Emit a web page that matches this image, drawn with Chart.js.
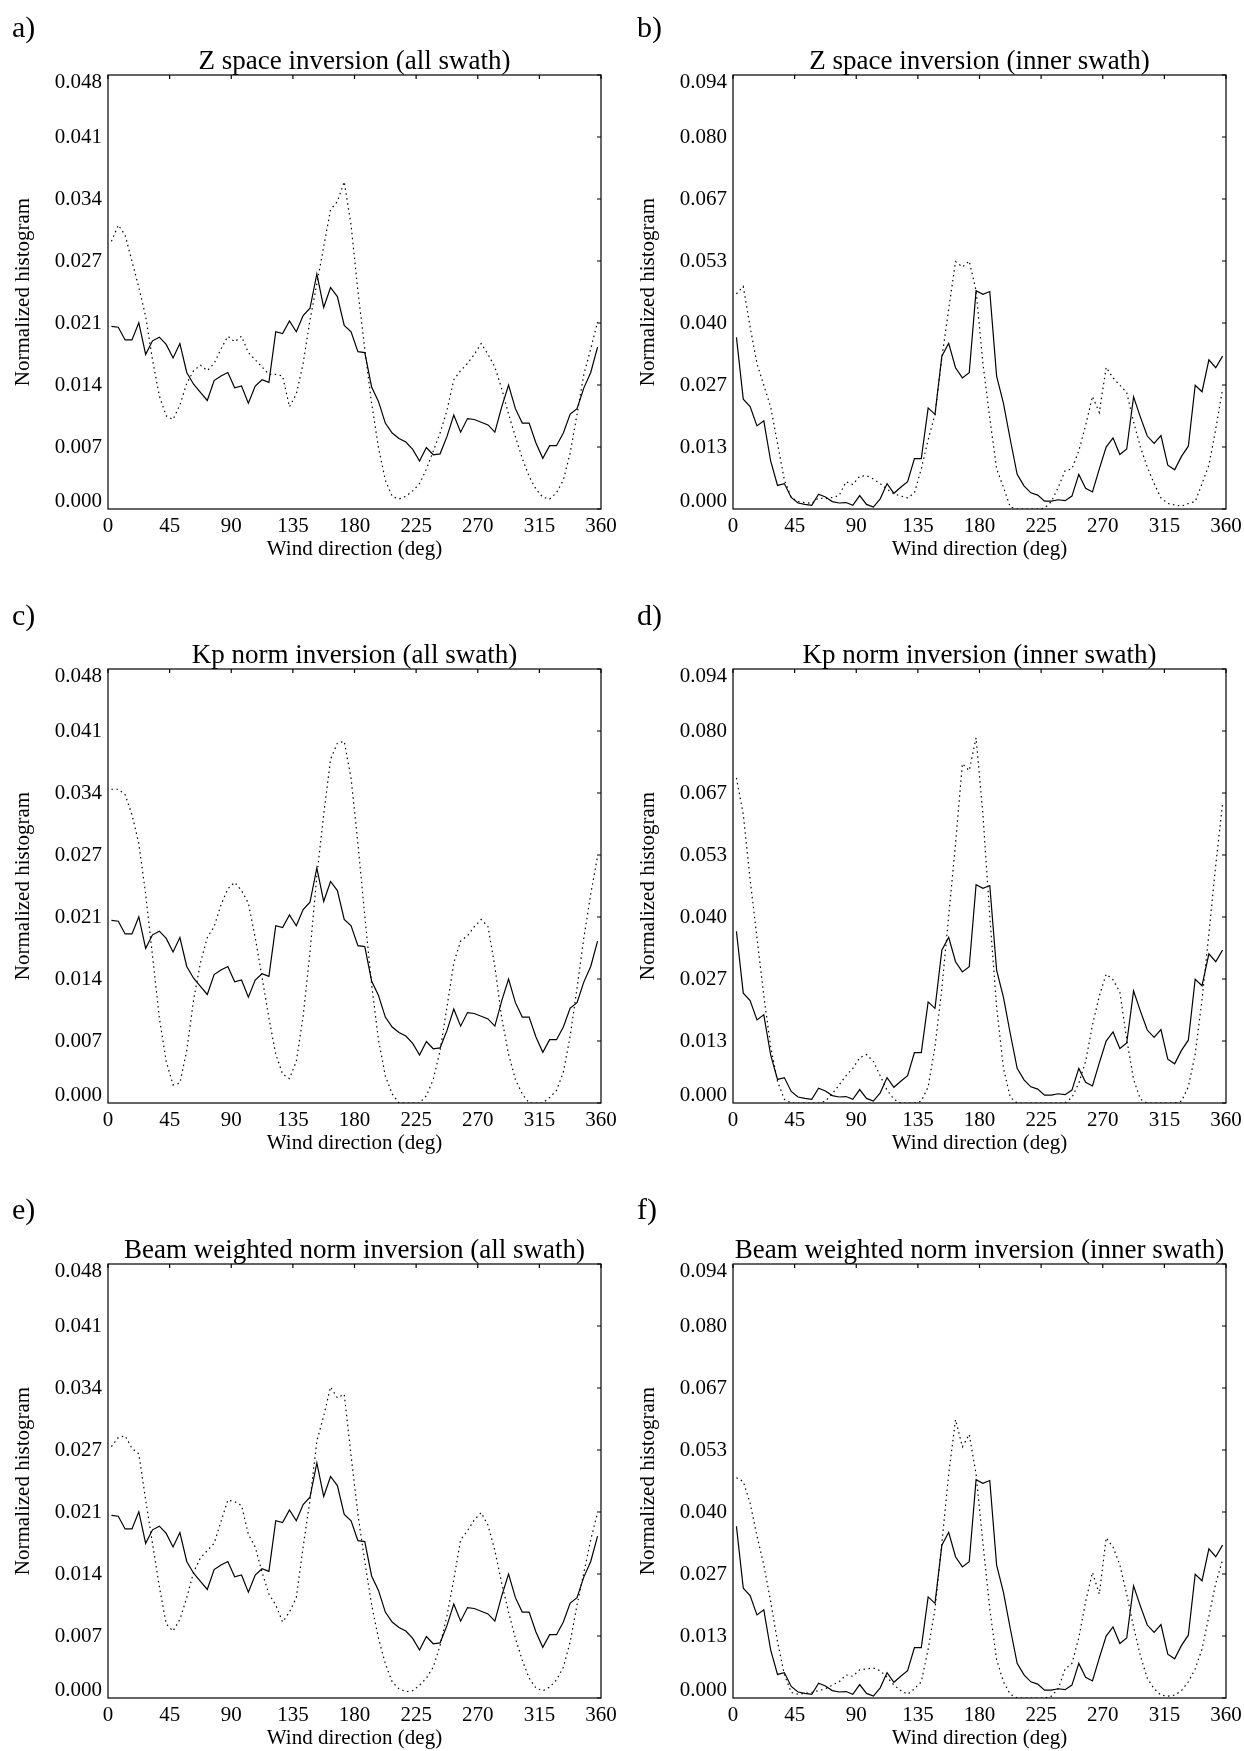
<!DOCTYPE html>
<html>
<head>
<meta charset="utf-8">
<script src="https://cdn.jsdelivr.net/npm/chart.js@4.4.1/dist/chart.umd.min.js"></script>
<style>
  html, body { margin: 0; padding: 0; background: #fff; }
  #page { position: relative; width: 1244px; height: 1751px; background: #fff; overflow: hidden; }
  #page canvas { position: absolute; }
  .panelLetter { position: absolute; font-family: "Liberation Serif", "Times New Roman", serif; font-size: 30px; line-height: 30px; color: #000; }
</style>
</head>
<body>
<div id="page"></div>
<script>
// wind direction bin centres (deg)
const windDirection = [
  2.5, 7.5, 12.5, 17.5, 22.5, 27.5, 32.5, 37.5, 42.5, 47.5,
  52.5, 57.5, 62.5, 67.5, 72.5, 77.5, 82.5, 87.5, 92.5, 97.5,
  102.5, 107.5, 112.5, 117.5, 122.5, 127.5, 132.5, 137.5, 142.5, 147.5,
  152.5, 157.5, 162.5, 167.5, 172.5, 177.5, 182.5, 187.5, 192.5, 197.5,
  202.5, 207.5, 212.5, 217.5, 222.5, 227.5, 232.5, 237.5, 242.5, 247.5,
  252.5, 257.5, 262.5, 267.5, 272.5, 277.5, 282.5, 287.5, 292.5, 297.5,
  302.5, 307.5, 312.5, 317.5, 322.5, 327.5, 332.5, 337.5, 342.5, 347.5,
  352.5, 357.5
];

// solid curves (same in every panel of a column)
const solidAllSwath = [
  0.0202, 0.0201, 0.0187, 0.0187, 0.0206, 0.0171, 0.0186, 0.0190, 0.0182, 0.0167,
  0.0183, 0.0151, 0.0138, 0.0129, 0.0120, 0.0142, 0.0147, 0.0151, 0.0134, 0.0136,
  0.0117, 0.0136, 0.0143, 0.0140, 0.0196, 0.0194, 0.0208, 0.0196, 0.0214, 0.0222,
  0.0260, 0.0223, 0.0245, 0.0235, 0.0203, 0.0196, 0.0174, 0.0173, 0.0135, 0.0119,
  0.0095, 0.0084, 0.0078, 0.0074, 0.0066, 0.0053, 0.0068, 0.0060, 0.0061, 0.0080,
  0.0104, 0.0085, 0.0100, 0.0099, 0.0096, 0.0093, 0.0085, 0.0113, 0.0137, 0.0111,
  0.0095, 0.0095, 0.0073, 0.0056, 0.0070, 0.0070, 0.0084, 0.0105, 0.0111, 0.0134,
  0.0151, 0.0179
];
const solidInnerSwath = [
  0.0372, 0.0238, 0.0222, 0.0180, 0.0191, 0.0104, 0.0051, 0.0055, 0.0025, 0.0013,
  0.0010, 0.0008, 0.0032, 0.0026, 0.0016, 0.0013, 0.0014, 0.0008, 0.0029, 0.0010,
  0.0004, 0.0022, 0.0055, 0.0034, 0.0047, 0.0059, 0.0109, 0.0109, 0.0219, 0.0205,
  0.0331, 0.0359, 0.0306, 0.0284, 0.0295, 0.0473, 0.0465, 0.0471, 0.0288, 0.0229,
  0.0150, 0.0075, 0.0050, 0.0035, 0.0030, 0.0017, 0.0017, 0.0020, 0.0018, 0.0028,
  0.0075, 0.0045, 0.0037, 0.0087, 0.0134, 0.0154, 0.0118, 0.0130, 0.0243, 0.0199,
  0.0158, 0.0142, 0.0159, 0.0095, 0.0085, 0.0114, 0.0136, 0.0268, 0.0254, 0.0323,
  0.0306, 0.0331
];

// dotted curves, one per panel
const dottedZAll = [
  0.0296, 0.0314, 0.0303, 0.0274, 0.0245, 0.0213, 0.0165, 0.0125, 0.0103, 0.0099,
  0.0115, 0.0139, 0.0153, 0.0159, 0.0153, 0.0161, 0.0177, 0.0191, 0.0185, 0.0191,
  0.0173, 0.0165, 0.0157, 0.0149, 0.0149, 0.0147, 0.0113, 0.0127, 0.0161, 0.0209,
  0.0249, 0.0290, 0.0331, 0.0340, 0.0362, 0.0314, 0.0241, 0.0177, 0.0117, 0.0068,
  0.0032, 0.0014, 0.0011, 0.0014, 0.0020, 0.0028, 0.0044, 0.0064, 0.0084, 0.0109,
  0.0143, 0.0153, 0.0161, 0.0171, 0.0183, 0.0171, 0.0157, 0.0133, 0.0105, 0.0080,
  0.0056, 0.0036, 0.0022, 0.0013, 0.0011, 0.0018, 0.0032, 0.0062, 0.0105, 0.0149,
  0.0177, 0.0207
];
const dottedZInner = [
  0.0466, 0.0482, 0.0394, 0.0315, 0.0268, 0.0221, 0.0142, 0.0063, 0.0025, 0.0016,
  0.0014, 0.0012, 0.0024, 0.0022, 0.0025, 0.0029, 0.0059, 0.0053, 0.0071, 0.0072,
  0.0065, 0.0055, 0.0043, 0.0033, 0.0028, 0.0024, 0.0035, 0.0087, 0.0150, 0.0205,
  0.0327, 0.0433, 0.0536, 0.0524, 0.0537, 0.0473, 0.0315, 0.0197, 0.0087, 0.0047,
  0.0004, 0.0000, 0.0000, 0.0000, 0.0000, 0.0002, 0.0016, 0.0047, 0.0083, 0.0087,
  0.0126, 0.0181, 0.0244, 0.0209, 0.0307, 0.0284, 0.0268, 0.0252, 0.0189, 0.0134,
  0.0091, 0.0055, 0.0024, 0.0012, 0.0009, 0.0006, 0.0012, 0.0016, 0.0055, 0.0095,
  0.0173, 0.0260
];
const dottedKpAll = [
  0.0347, 0.0347, 0.0341, 0.0319, 0.0287, 0.0231, 0.0163, 0.0094, 0.0046, 0.0020,
  0.0022, 0.0058, 0.0114, 0.0155, 0.0183, 0.0195, 0.0219, 0.0237, 0.0244, 0.0235,
  0.0221, 0.0183, 0.0139, 0.0094, 0.0054, 0.0032, 0.0027, 0.0046, 0.0096, 0.0167,
  0.0251, 0.0319, 0.0380, 0.0398, 0.0400, 0.0359, 0.0287, 0.0207, 0.0131, 0.0070,
  0.0030, 0.0010, 0.0000, 0.0000, 0.0000, 0.0000, 0.0008, 0.0026, 0.0058, 0.0106,
  0.0155, 0.0179, 0.0185, 0.0195, 0.0203, 0.0195, 0.0151, 0.0094, 0.0054, 0.0026,
  0.0010, 0.0000, 0.0000, 0.0000, 0.0006, 0.0014, 0.0034, 0.0074, 0.0127, 0.0183,
  0.0231, 0.0273
];
const dottedKpInner = [
  0.0704, 0.0625, 0.0484, 0.0358, 0.0232, 0.0122, 0.0047, 0.0008, 0.0000, 0.0000,
  0.0000, 0.0000, 0.0000, 0.0004, 0.0020, 0.0039, 0.0059, 0.0075, 0.0098, 0.0105,
  0.0090, 0.0059, 0.0028, 0.0008, 0.0000, 0.0000, 0.0000, 0.0004, 0.0035, 0.0122,
  0.0248, 0.0405, 0.0562, 0.0735, 0.0720, 0.0791, 0.0625, 0.0405, 0.0208, 0.0075,
  0.0012, 0.0000, 0.0000, 0.0000, 0.0000, 0.0000, 0.0000, 0.0000, 0.0000, 0.0012,
  0.0043, 0.0090, 0.0169, 0.0232, 0.0279, 0.0267, 0.0240, 0.0138, 0.0051, 0.0008,
  0.0000, 0.0000, 0.0000, 0.0000, 0.0000, 0.0004, 0.0035, 0.0106, 0.0224, 0.0366,
  0.0515, 0.0649
];
const dottedBeamAll = [
  0.0278, 0.0288, 0.0290, 0.0276, 0.0270, 0.0219, 0.0171, 0.0123, 0.0082, 0.0074,
  0.0087, 0.0111, 0.0139, 0.0155, 0.0163, 0.0171, 0.0195, 0.0219, 0.0217, 0.0213,
  0.0181, 0.0167, 0.0139, 0.0115, 0.0103, 0.0084, 0.0095, 0.0111, 0.0167, 0.0219,
  0.0284, 0.0312, 0.0344, 0.0332, 0.0336, 0.0268, 0.0203, 0.0151, 0.0103, 0.0066,
  0.0038, 0.0018, 0.0010, 0.0007, 0.0008, 0.0014, 0.0022, 0.0034, 0.0058, 0.0091,
  0.0131, 0.0175, 0.0185, 0.0197, 0.0205, 0.0191, 0.0163, 0.0127, 0.0095, 0.0066,
  0.0042, 0.0022, 0.0011, 0.0008, 0.0012, 0.0020, 0.0034, 0.0062, 0.0103, 0.0139,
  0.0175, 0.0205
];
const dottedBeamInner = [
  0.0477, 0.0469, 0.0422, 0.0351, 0.0288, 0.0209, 0.0122, 0.0051, 0.0012, 0.0008,
  0.0010, 0.0012, 0.0016, 0.0020, 0.0028, 0.0035, 0.0050, 0.0047, 0.0061, 0.0063,
  0.0065, 0.0059, 0.0045, 0.0028, 0.0016, 0.0008, 0.0020, 0.0035, 0.0106, 0.0193,
  0.0335, 0.0485, 0.0603, 0.0544, 0.0571, 0.0485, 0.0335, 0.0193, 0.0083, 0.0035,
  0.0008, 0.0000, 0.0000, 0.0000, 0.0000, 0.0000, 0.0004, 0.0020, 0.0063, 0.0075,
  0.0130, 0.0209, 0.0272, 0.0225, 0.0347, 0.0327, 0.0288, 0.0225, 0.0154, 0.0091,
  0.0043, 0.0020, 0.0006, 0.0004, 0.0006, 0.0016, 0.0035, 0.0063, 0.0106, 0.0177,
  0.0248, 0.0299
];

// axis ticks
const xTickValues = [0, 45, 90, 135, 180, 225, 270, 315, 360];
const yMaxAllSwath = 0.048;
const yMaxInnerSwath = 0.094;
const yTickLabelsAllSwath = ["0.000", "0.007", "0.014", "0.021", "0.027", "0.034", "0.041", "0.048"];
const yTickLabelsInnerSwath = ["0.000", "0.013", "0.027", "0.040", "0.053", "0.067", "0.080", "0.094"];

const panelLetters = ["a)", "b)", "c)", "d)", "e)", "f)"];
const panelTitles = [
  "Z space inversion (all swath)",
  "Z space inversion (inner swath)",
  "Kp norm inversion (all swath)",
  "Kp norm inversion (inner swath)",
  "Beam weighted norm inversion (all swath)",
  "Beam weighted norm inversion (inner swath)"
];

const jVarFont = '"Liberation Serif", "Times New Roman", serif';

// plot box geometry (px)
const jVarBoxLefts = [108, 733];
const jVarBoxTops = [75, 669, 1264];
const jVarBoxWidth = 493;
const jVarBoxHeight = 434;
const jVarYAxisWidth = 100;
const jVarTitleHeight = 40;
const jVarXAxisHeight = 60;
const jVarRightPad = 24;
const jVarLetterTops = [12, 600, 1194];

let jFPairs = ({ inValues }) => windDirection.map((d, i) => ({ x: d, y: inValues[i] }));

// frame + inward ticks on top and right edges
const jVarFramePlugin = {
    id: "frameBox",
    afterDraw: (chart) => {
        const { ctx, chartArea, scales } = chart;
        ctx.save();
        ctx.strokeStyle = "#000";
        ctx.lineWidth = 1.2;
        ctx.strokeRect(chartArea.left, chartArea.top, chartArea.right - chartArea.left, chartArea.bottom - chartArea.top);
        ctx.beginPath();
        scales.x.ticks.forEach(t => {
            const px = scales.x.getPixelForValue(t.value);
            ctx.moveTo(px, chartArea.top);
            ctx.lineTo(px, chartArea.top + 4);
        });
        scales.y.ticks.forEach(t => {
            const py = scales.y.getPixelForValue(t.value);
            ctx.moveTo(chartArea.right, py);
            ctx.lineTo(chartArea.right - 4, py);
        });
        ctx.stroke();
        ctx.restore();
    }
};

let jFBuildChart = ({ inIndex, inSolid, inDotted, inYMax, inYLabels }) => {
    const col = inIndex % 2;
    const row = Math.floor(inIndex / 2);
    const page = document.getElementById("page");

    const canvas = document.createElement("canvas");
    const w = jVarYAxisWidth + jVarBoxWidth + jVarRightPad;
    const h = jVarTitleHeight + jVarBoxHeight + jVarXAxisHeight;
    canvas.width = w;
    canvas.height = h;
    canvas.style.width = w + "px";
    canvas.style.height = h + "px";
    canvas.style.left = (jVarBoxLefts[col] - jVarYAxisWidth) + "px";
    canvas.style.top = (jVarBoxTops[row] - jVarTitleHeight) + "px";
    page.appendChild(canvas);

    const letter = document.createElement("div");
    letter.className = "panelLetter";
    letter.textContent = panelLetters[inIndex];
    letter.style.left = (col === 0 ? 12 : 637) + "px";
    letter.style.top = jVarLetterTops[row] + "px";
    page.appendChild(letter);

    const lastTick = inYLabels.length - 1;

    new Chart(canvas, {
        type: "line",
        data: {
            datasets: [
                {
                    data: jFPairs({ inValues: inSolid }),
                    xAxisID: "x",
                    yAxisID: "y",
                    borderColor: "#000",
                    borderWidth: 1.2,
                    pointRadius: 0,
                    fill: false,
                    tension: 0
                },
                {
                    data: jFPairs({ inValues: inDotted }),
                    xAxisID: "x",
                    yAxisID: "y",
                    borderColor: "#000",
                    borderWidth: 1.2,
                    borderDash: [1.5, 3.5],
                    pointRadius: 0,
                    fill: false,
                    tension: 0
                }
            ]
        },
        options: {
            responsive: false,
            animation: false,
            events: [],
            layout: { padding: { left: 0, right: jVarRightPad, top: 0, bottom: 0 } },
            plugins: {
                legend: { display: false },
                tooltip: { enabled: false },
                title: { display: false }
            },
            scales: {
                x: {
                    type: "linear",
                    position: "bottom",
                    min: 0,
                    max: 360,
                    grid: { display: false, drawTicks: false },
                    border: { display: false },
                    afterBuildTicks: (scale) => { scale.ticks = xTickValues.map(v => ({ value: v })); },
                    afterFit: (scale) => { scale.height = jVarXAxisHeight; },
                    ticks: {
                        autoSkip: false,
                        maxRotation: 0,
                        padding: 5,
                        color: "#000",
                        font: { family: jVarFont, size: 21 },
                        callback: (v) => String(v)
                    },
                    title: {
                        display: true,
                        text: "Wind direction (deg)",
                        color: "#000",
                        font: { family: jVarFont, size: 21 },
                        padding: { top: 0, bottom: 7.4 }
                    }
                },
                // top axis only carries the panel title, centred over the plot box
                xTop: {
                    type: "linear",
                    position: "top",
                    min: 0,
                    max: 360,
                    grid: { display: false, drawTicks: false },
                    border: { display: false },
                    ticks: { display: false },
                    afterFit: (scale) => { scale.height = jVarTitleHeight; },
                    title: {
                        display: true,
                        text: panelTitles[inIndex],
                        color: "#000",
                        font: { family: jVarFont, size: 27 },
                        padding: { top: 10.8, bottom: 0 }
                    }
                },
                y: {
                    type: "linear",
                    min: 0,
                    max: inYMax,
                    grid: { display: false, drawTicks: false },
                    border: { display: false },
                    afterBuildTicks: (scale) => {
                        scale.ticks = inYLabels.map((l, i) => ({ value: inYMax * i / lastTick }));
                    },
                    afterFit: (scale) => { scale.width = jVarYAxisWidth; },
                    ticks: {
                        autoSkip: false,
                        padding: 6,
                        color: "#000",
                        font: { family: jVarFont, size: 21, lineHeight: 0.7 },
                        callback: (v, i) => {
                            if (i === lastTick) return ["", inYLabels[i]];
                            if (i === 0) return [inYLabels[i], ""];
                            return inYLabels[i];
                        }
                    },
                    title: {
                        display: true,
                        text: "Normalized histogram",
                        color: "#000",
                        font: { family: jVarFont, size: 21 },
                        padding: { top: 2.4, bottom: 0 }
                    }
                }
            }
        },
        plugins: [jVarFramePlugin]
    });
};

const StartFunc = () => {
    const panels = [
        { inSolid: solidAllSwath, inDotted: dottedZAll, inYMax: yMaxAllSwath, inYLabels: yTickLabelsAllSwath },
        { inSolid: solidInnerSwath, inDotted: dottedZInner, inYMax: yMaxInnerSwath, inYLabels: yTickLabelsInnerSwath },
        { inSolid: solidAllSwath, inDotted: dottedKpAll, inYMax: yMaxAllSwath, inYLabels: yTickLabelsAllSwath },
        { inSolid: solidInnerSwath, inDotted: dottedKpInner, inYMax: yMaxInnerSwath, inYLabels: yTickLabelsInnerSwath },
        { inSolid: solidAllSwath, inDotted: dottedBeamAll, inYMax: yMaxAllSwath, inYLabels: yTickLabelsAllSwath },
        { inSolid: solidInnerSwath, inDotted: dottedBeamInner, inYMax: yMaxInnerSwath, inYLabels: yTickLabelsInnerSwath }
    ];
    panels.forEach((p, i) => jFBuildChart({ inIndex: i, ...p }));
};

StartFunc();
</script>
</body>
</html>
